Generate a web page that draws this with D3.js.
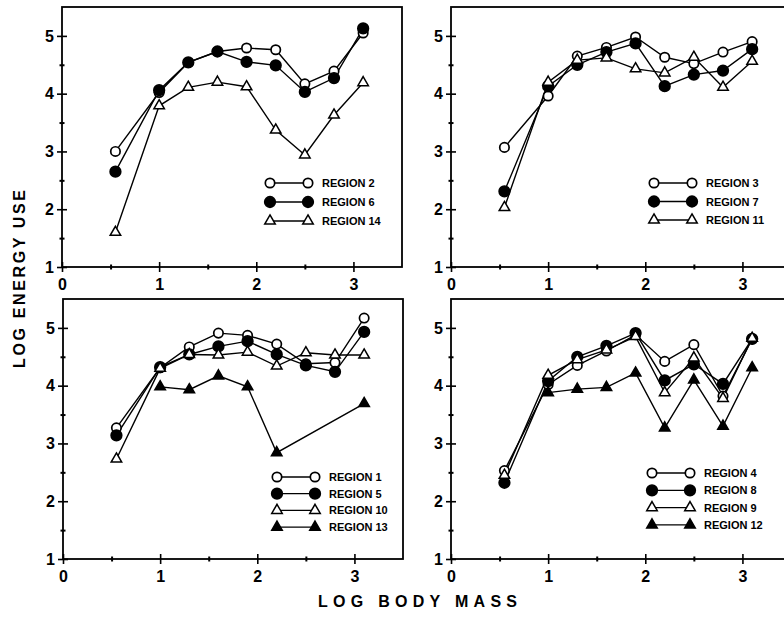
<!DOCTYPE html>
<html lang="en">
    <head>
        <meta charset="utf-8">
        <title>Log energy use vs log body mass</title>
        <style>
            body { margin: 0; background: #fff; }
            .line { fill: none; stroke: #000; stroke-width: 1.4px; }
            .tick-label { font-family: "Liberation Sans", Arial, sans-serif; font-weight: bold; font-size: 16px; }
            .legend-text { font-family: "Liberation Sans Narrow", "Liberation Sans", Arial, sans-serif; font-weight: bold; font-size: 11px; }
            .title { font-family: "Liberation Sans", Arial, sans-serif; font-weight: bold; font-size: 16px; }
        </style>
    </head>
    <body>
        <script src="https://d3js.org/d3.v7.min.js"></script>
        <script type="text/javascript">

            // log body mass classes (x values)
            var xMass = [0.55, 1.0, 1.3, 1.6, 1.9, 2.2, 2.5, 2.8, 3.1];

            // log energy use per region (null = no point)
            var region1  = [3.27, 4.31, 4.67, 4.91, 4.87, 4.72, 4.38, 4.40, 5.17];
            var region2  = [3.00, 4.02, 4.54, 4.73, 4.79, 4.76, 4.17, 4.39, 5.05];
            var region3  = [3.07, 3.96, 4.65, 4.80, 4.98, 4.63, 4.52, 4.72, 4.90];
            var region4  = [2.53, 4.02, 4.35, 4.60, 4.88, 4.42, 4.71, 3.82, 4.81];
            var region5  = [3.14, 4.32, 4.54, 4.68, 4.77, 4.54, 4.35, 4.24, 4.93];
            var region6  = [2.65, 4.06, 4.54, 4.73, 4.55, 4.49, 4.03, 4.27, 5.13];
            var region7  = [2.31, 4.13, 4.50, 4.72, 4.87, 4.13, 4.33, 4.40, 4.77];
            var region8  = [2.32, 4.08, 4.50, 4.69, 4.91, 4.09, 4.37, 4.03, 4.81];
            var region9  = [2.45, 4.18, 4.45, 4.62, 4.85, 3.88, 4.48, 3.78, 4.82];
            var region10 = [2.73, 4.30, 4.54, 4.53, 4.58, 4.34, 4.57, 4.53, 4.53];
            var region11 = [2.03, 4.20, 4.58, 4.62, 4.43, 4.36, 4.63, 4.11, 4.56];
            var region12 = [null, 3.88, 3.94, 3.97, 4.22, 3.27, 4.10, 3.30, 4.31];
            var region13 = [null, 3.98, 3.93, 4.17, 3.98, 2.84, null, null, 3.69];
            var region14 = [1.60, 3.79, 4.11, 4.20, 4.12, 3.37, 2.94, 3.63, 4.19];

            // tick labels
            var xTicks = [0, 1, 2, 3];
            var yTicks = [1, 2, 3, 4, 5];

            // panel layout
            var panels = [
                { left: 62,  bottom: 267, legend: [270, 183, 19],
                  series: [["REGION 2", region2, "oc"], ["REGION 6", region6, "fc"], ["REGION 14", region14, "ot"]] },
                { left: 451, bottom: 267, legend: [654, 183, 18.5],
                  series: [["REGION 3", region3, "oc"], ["REGION 7", region7, "fc"], ["REGION 11", region11, "ot"]] },
                { left: 63,  bottom: 559, legend: [277, 477, 16.7],
                  series: [["REGION 1", region1, "oc"], ["REGION 5", region5, "fc"], ["REGION 10", region10, "ot"], ["REGION 13", region13, "ft"]] },
                { left: 451, bottom: 559, legend: [652, 473, 17.3],
                  series: [["REGION 4", region4, "oc"], ["REGION 8", region8, "fc"], ["REGION 9", region9, "ot"], ["REGION 12", region12, "ft"]] }
            ];

            var pw = 340, ph = 260;

            var svg = d3.select("body")
                        .append("svg")
                        .attr("width", 784)
                        .attr("height", 618);

            function marker(g, type, cx, cy) {
                if (type === "oc" || type === "fc") {
                    g.append("circle")
                        .attr("cx", cx).attr("cy", cy)
                        .attr("r", type === "fc" ? 5.3 : 4.7)
                        .attr("fill", type === "fc" ? "#000" : "#fff")
                        .attr("stroke", "#000")
                        .attr("stroke-width", 1.7);
                } else {
                    g.append("path")
                        .attr("transform", `translate(${cx},${cy})`)
                        .attr("d", d3.symbol(d3.symbolTriangle, 48)())
                        .attr("fill", type === "ft" ? "#000" : "#fff")
                        .attr("stroke", "#000")
                        .attr("stroke-width", 1.5);
                }
            }

            panels.forEach(function(p) {
                var xScale = d3.scaleLinear().domain([0, 3.5]).range([p.left, p.left + pw]);
                var yScale = d3.scaleLinear().domain([1, 5.5]).range([p.bottom, p.bottom - ph]);

                var g = svg.append("g");

                // frame
                g.append("rect")
                    .attr("x", xScale(0)).attr("y", yScale(5.5))
                    .attr("width", xScale(3.5) - xScale(0))
                    .attr("height", yScale(1) - yScale(5.5))
                    .attr("fill", "none").attr("stroke", "#000").attr("stroke-width", 1.8);

                // x axis: major ticks with labels, minor at halves
                var xAxis = g.append("g")
                    .attr("transform", "translate(0," + p.bottom + ")")
                    .call(d3.axisBottom(xScale).tickValues(xTicks).tickSize(0).tickPadding(12).tickFormat(d3.format("d")));
                xAxis.select(".domain").remove();
                xAxis.selectAll("text").attr("class", "tick-label").attr("fill", "#000");
                xAxis.selectAll(".tick").append("line").attr("y1", -5).attr("y2", 5).attr("stroke", "#000").attr("stroke-width", 1.6);

                var xMinor = g.append("g")
                    .attr("transform", "translate(0," + p.bottom + ")")
                    .call(d3.axisBottom(xScale).tickValues([0.5, 1.5, 2.5]).tickSize(0).tickFormat(""));
                xMinor.select(".domain").remove();
                xMinor.selectAll(".tick").append("line").attr("y1", -2.5).attr("y2", 2.5).attr("stroke", "#000").attr("stroke-width", 2);

                // y axis
                var yAxis = g.append("g")
                    .attr("transform", "translate(" + p.left + ",0)")
                    .call(d3.axisLeft(yScale).tickValues(yTicks).tickSize(0).tickPadding(8).tickFormat(d3.format("d")));
                yAxis.select(".domain").remove();
                yAxis.selectAll("text").attr("class", "tick-label").attr("fill", "#000");
                yAxis.selectAll(".tick").append("line").attr("x1", -5).attr("x2", 5).attr("stroke", "#000").attr("stroke-width", 1.6);

                var yMinor = g.append("g")
                    .attr("transform", "translate(" + p.left + ",0)")
                    .call(d3.axisLeft(yScale).tickValues([1.5, 2.5, 3.5, 4.5]).tickSize(0).tickFormat(""));
                yMinor.select(".domain").remove();
                yMinor.selectAll(".tick").append("line").attr("x1", -2.5).attr("x2", 2.5).attr("stroke", "#000").attr("stroke-width", 2);

                var line = d3.line()
                    .x(d => xScale(d[0]))
                    .y(d => yScale(d[1]));

                // lines first, then markers on top
                p.series.forEach(function(s) {
                    var pts = xMass.map((x, i) => [x, s[1][i]]).filter(d => d[1] != null);
                    g.append("path").datum(pts).attr("class", "line").attr("d", line);
                });
                p.series.forEach(function(s) {
                    var pts = xMass.map((x, i) => [x, s[1][i]]).filter(d => d[1] != null);
                    pts.forEach(d => marker(g, s[2], xScale(d[0]), yScale(d[1])));
                });

                // legend
                var lx = p.legend[0], ly = p.legend[1], step = p.legend[2];
                p.series.forEach(function(s, i) {
                    var yy = ly + i * step;
                    g.append("line")
                        .attr("x1", lx).attr("x2", lx + 38)
                        .attr("y1", yy).attr("y2", yy)
                        .attr("stroke", "#000").attr("stroke-width", 1.3);
                    marker(g, s[2], lx, yy);
                    marker(g, s[2], lx + 38, yy);
                    g.append("text")
                        .attr("class", "legend-text")
                        .attr("x", lx + 52).attr("y", yy + 4)
                        .text(s[0]);
                });
            });

            // axis titles
            svg.append("text")
                .attr("class", "title")
                .attr("x", 318).attr("y", 607)
                .attr("textLength", 199)
                .attr("lengthAdjust", "spacing")
                .text("LOG BODY MASS");

            svg.append("text")
                .attr("class", "title")
                .attr("transform", "translate(25,368) rotate(-90)")
                .attr("textLength", 178)
                .attr("lengthAdjust", "spacing")
                .text("LOG ENERGY USE");

        </script>
    </body>
</html>
